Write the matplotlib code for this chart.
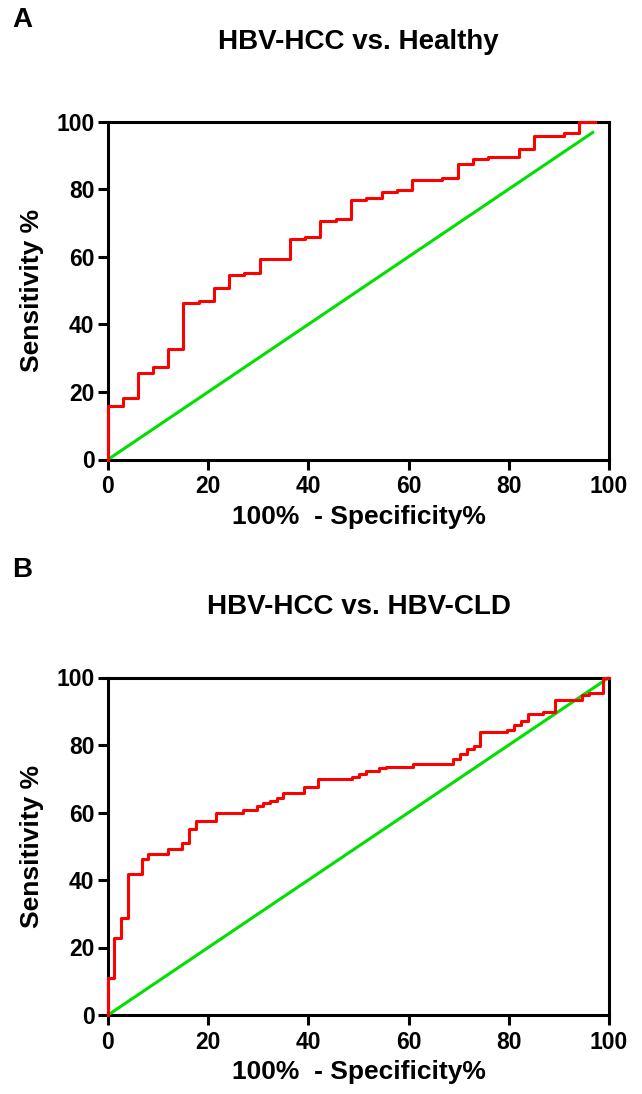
import matplotlib
matplotlib.use("Agg")
import matplotlib.pyplot as plt
from matplotlib import font_manager

names = {f.name for f in font_manager.fontManager.ttflist}
FONT = "Liberation Sans" if "Liberation Sans" in names else "DejaVu Sans"
plt.rcParams['font.family'] = [FONT, 'DejaVu Sans']
plt.rcParams['font.weight'] = 'bold'

# Panel A: HBV-HCC vs. Healthy (ROC points, 100% - specificity vs sensitivity)
fpr_a = [0, 0, 2.9, 6.0, 8.9, 12, 15, 18.1, 21.2, 24.2, 27.2, 30.3, 36.3, 39.3, 42.3,
         45.5, 48.5, 51.5, 54.7, 57.7, 60.7, 66.7, 69.8, 72.9, 75.9, 82, 85, 91.1, 94.1, 97.3]
tpr_a = [0, 15.8, 18.1, 25.7, 27.3, 32.6, 46.4, 47, 50.8, 54.6, 55.3, 59.2, 65.2, 65.9, 70.6,
         71.2, 76.8, 77.5, 79, 79.7, 82.7, 83.4, 87.3, 88.8, 89.6, 91.8, 95.7, 96.5, 100, 100]
ref_a = [0, 97]

# Panel B: HBV-HCC vs. HBV-CLD
fpr_b = [0, 0, 1.1, 2.5, 3.9, 6.7, 8.0, 12, 14.7, 16.2, 17.5, 21.5, 27, 29.7, 31, 32.3, 33.7,
         35, 39.1, 42, 48.7, 50, 51.5, 54.1, 55.5, 60.8, 68.9, 70.3, 71.7, 73, 74.2, 79.7,
         81.1, 82.5, 83.9, 86.8, 89.3, 94.7, 96, 98.8, 100]
tpr_b = [0, 11, 22.7, 28.6, 41.7, 46.1, 47.7, 49.1, 50.9, 55.1, 57.5, 59.8, 60.7, 61.9, 62.9,
         63.5, 64.4, 65.9, 67.7, 69.9, 70.6, 71.4, 72.3, 73.1, 73.6, 74.4, 75.8, 77.3, 78.8,
         79.7, 83.8, 84.3, 85.9, 87.2, 89.1, 89.7, 93.3, 94.8, 95.5, 100, 100]
ref_b = [0, 100]

titles = ["HBV-HCC vs. Healthy", "HBV-HCC vs. HBV-CLD"]
letters = ["A", "B"]
ticks = [0, 20, 40, 60, 80, 100]
xlabel = "100%  - Specificity%"
ylabel = "Sensitivity %"

W, H = 642, 1094
fig = plt.figure(figsize=(W / 100, H / 100), dpi=100)

def frac(left, top, right, bottom):
    return [left / W, 1 - bottom / H, (right - left) / W, (bottom - top) / H]

rects = [frac(108, 121.5, 609, 459.5), frac(108, 677.5, 609, 1015)]
data = [(fpr_a, tpr_a, ref_a), (fpr_b, tpr_b, ref_b)]
letter_y = [20, 570]
title_pad = [52, 46]

for i, (rect, (fx, ty, ref)) in enumerate(zip(rects, data)):
    ax = fig.add_axes(rect)
    ax.plot(ref, ref, color='#00e000', lw=2.2, clip_on=False, zorder=2, solid_capstyle='butt')
    ax.plot(fx, ty, color='#ff0000', lw=2.2, drawstyle='steps-post', clip_on=False, zorder=3)
    ax.set_xlim(0, 100)
    ax.set_ylim(0, 100)
    ax.set_xticks(ticks)
    ax.set_yticks(ticks)
    for s in ax.spines.values():
        s.set_linewidth(2.2)
        s.set_zorder(1)
    ax.tick_params(width=2.2, length=7.2, labelsize=16.5)
    ax.tick_params(axis='x', pad=4)
    ax.tick_params(axis='y', pad=2.5)
    for lab in ax.get_xticklabels() + ax.get_yticklabels():
        lab.set_fontweight('bold')
    ax.set_xlabel(xlabel, fontsize=19, fontweight='bold', labelpad=5)
    ax.set_ylabel(ylabel, fontsize=19, fontweight='bold', labelpad=9)
    ax.set_title(titles[i], fontsize=20, fontweight='bold', pad=title_pad[i])
    fig.text(12 / W, 1 - letter_y[i] / H, letters[i], fontsize=20, fontweight='bold',
             ha='left', va='center')

fig.savefig("out.png", dpi=100)
